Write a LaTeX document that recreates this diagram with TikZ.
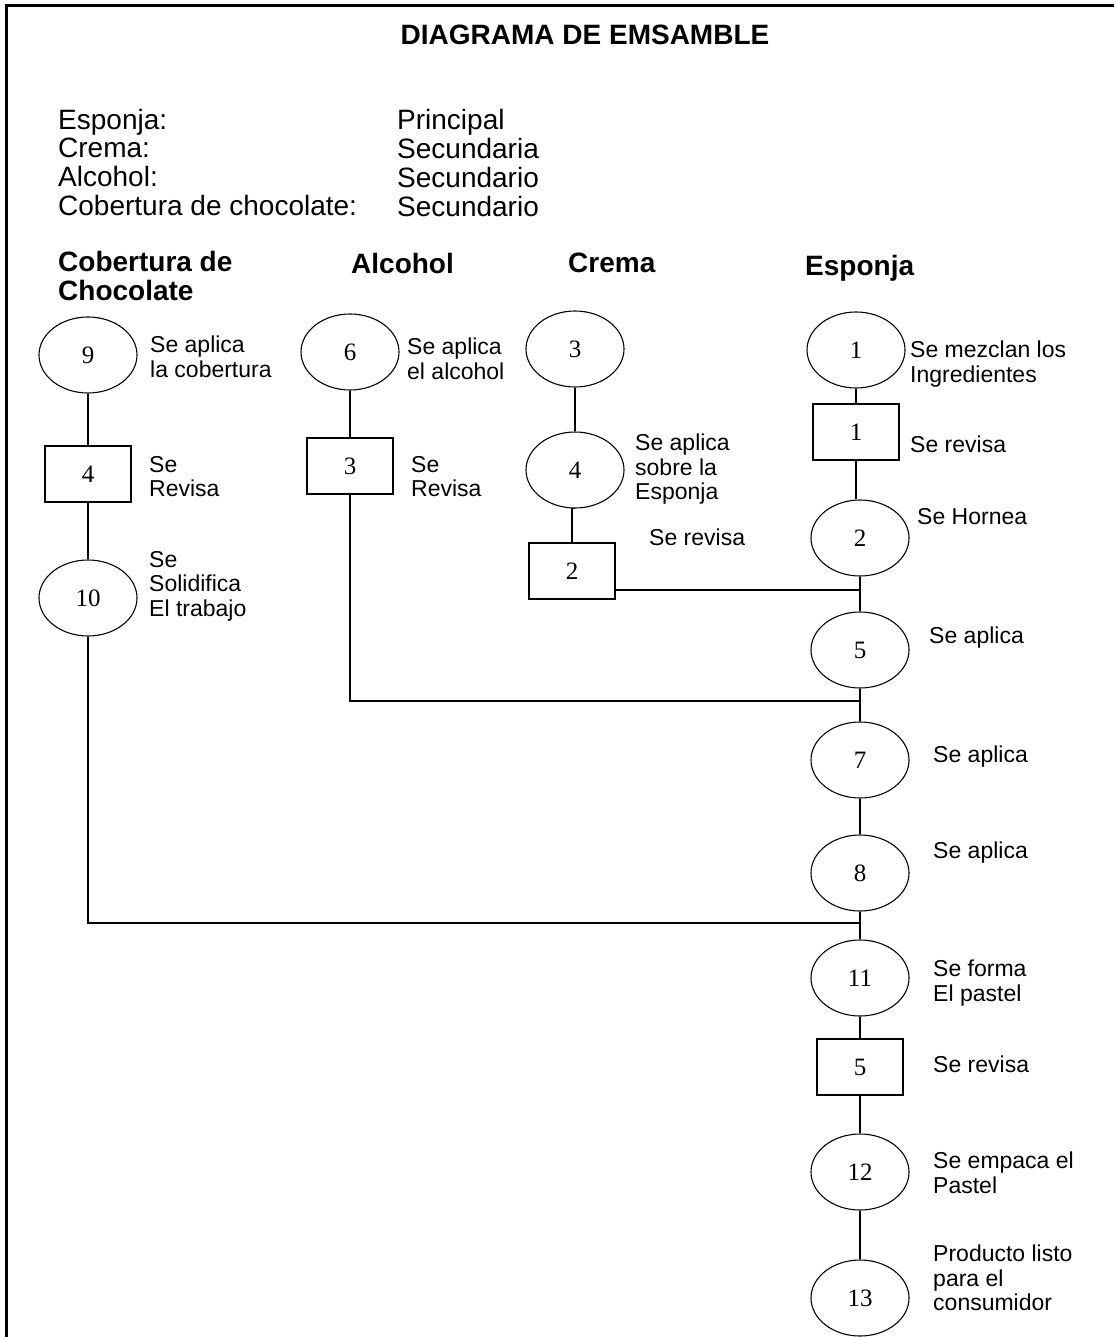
\documentclass[tikz,border=0pt]{standalone}
\usepackage{fontspec}
\setmainfont{Liberation Sans}
\newfontfamily\numfont{Liberation Serif}
\usetikzlibrary{shapes.geometric}
\begin{document}
\begin{tikzpicture}[x=1pt,y=-1pt,
  every node/.style={inner sep=0pt},
  op/.style={ellipse,draw,line width=1.1pt,minimum width=98pt,minimum height=76pt,font=\numfont\fontsize{25}{27}\selectfont},
  insp/.style={rectangle,draw,line width=1.1pt,minimum width=86pt,minimum height=56pt,font=\numfont\fontsize{25}{27}\selectfont},
  lbl/.style={anchor=north west,align=left,font=\fontsize{23}{24.5}\selectfont},
  txt/.style={anchor=base west,font=\fontsize{28}{29}\selectfont},
  hdr/.style={anchor=north west,align=left,font=\bfseries\fontsize{28}{29}\selectfont},
  conn/.style={line width=1.1pt}]
\useasboundingbox (0,0) rectangle (1114,1337);
\fill[white] (0,0) rectangle (1114,1337);
\draw[line width=3pt] (6,1337) -- (6,6) -- (1114,6);

% title and list
\node[font=\bfseries\fontsize{28}{30}\selectfont] (title) at (585,35) {DIAGRAMA DE EMSAMBLE};
\node[txt] (k1) at (58,130) {Esponja:};
\node[txt] (k2) at (58,158) {Crema:};
\node[txt] (k3) at (58,187) {Alcohol:};
\node[txt] (k4) at (58,216) {Cobertura de chocolate:};
\node[txt] (v1) at (397,130) {Principal};
\node[txt] (v2) at (397,159) {Secundaria};
\node[txt] (v3) at (397,188) {Secundario};
\node[txt] (v4) at (397,217) {Secundario};

% headers
\node[hdr] (h1) at (58,251) {Cobertura de\\Chocolate};
\node[hdr] (h2) at (351,253) {Alcohol};
\node[hdr] (h3) at (568,253) {Crema};
\node[hdr] (h4) at (805,255) {Esponja};

% column 1: cobertura
\node[op] (n9) at (88,355) {9};
\node[insp] (b4) at (88,474) {4};
\node[op] (n10) at (88,598) {10};
\node[lbl] (l9) at (150,336) {Se aplica\\la cobertura};
\node[lbl] (lb4) at (149,456) {Se\\Revisa};
\node[lbl] (l10) at (149,551) {Se\\Solidifica\\El trabajo};

% column 2: alcohol
\node[op] (n6) at (350,352) {6};
\node[insp] (b3) at (350,466) {3};
\node[lbl] (l6) at (407,338) {Se aplica\\el alcohol};
\node[lbl] (lb3) at (411,456) {Se\\Revisa};

% column 3: crema
\node[op] (n3) at (575,349) {3};
\node[op] (n4) at (575,470) {4};
\node[insp] (b2) at (572,571) {2};
\node[lbl] (l4) at (635,434) {Se aplica\\sobre la\\Esponja};
\node[lbl] (lb2) at (649,529) {Se revisa};

% column 4: esponja (main)
\node[op] (n1) at (856,350) {1};
\node[insp] (b1) at (856,432) {1};
\node[op] (n2) at (860,538) {2};
\node[op] (n5) at (860,650) {5};
\node[op] (n7) at (860,760) {7};
\node[op] (n8) at (860,873) {8};
\node[op] (n11) at (860,978) {11};
\node[insp] (b5) at (860,1067) {5};
\node[op] (n12) at (860,1172) {12};
\node[op] (n13) at (860,1298) {13};
\node[lbl] (l1) at (910,341) {Se mezclan los\\Ingredientes};
\node[lbl] (lb1) at (910,436) {Se revisa};
\node[lbl] (l2) at (917,508) {Se Hornea};
\node[lbl] (l5) at (929,627) {Se aplica};
\node[lbl] (l7) at (933,746) {Se aplica};
\node[lbl] (l8) at (933,842) {Se aplica};
\node[lbl] (l11) at (933,960) {Se forma\\El pastel};
\node[lbl] (lb5) at (933,1056) {Se revisa};
\node[lbl] (l12) at (933,1152) {Se empaca el\\Pastel};
\node[lbl] (l13) at (933,1245) {Producto listo\\para el\\consumidor};

% junctions on main line
\coordinate (j1) at (860,590);
\coordinate (j2) at (860,701);
\coordinate (j3) at (860,923);

% connectors
\draw[conn] (n9.south) -- (b4.north);
\draw[conn] (b4.south) -- (n10.north);
\draw[conn] (n10.south) -- (n10.south |- j3) -- (j3);

\draw[conn] (n6.south) -- (b3.north);
\draw[conn] (b3.south) -- (b3.south |- j2) -- (j2);

\draw[conn] (n3.south) -- (n4.north);
\draw[conn] (n4.south) -- (n4.south -| b2.north) -- (b2.north);
\draw[conn] (b2.east |- j1) -- (j1);

\draw[conn] (n1.south) -- (b1.north);
\draw[conn] (b1.south) -- (b1.south |- n2.north);
\draw[conn] (n2.south) -- (n5.north);
\draw[conn] (n5.south) -- (n7.north);
\draw[conn] (n7.south) -- (n8.north);
\draw[conn] (n8.south) -- (n11.north);
\draw[conn] (n11.south) -- (b5.north);
\draw[conn] (b5.south) -- (n12.north);
\draw[conn] (n12.south) -- (n13.north);
\end{tikzpicture}
\end{document}
